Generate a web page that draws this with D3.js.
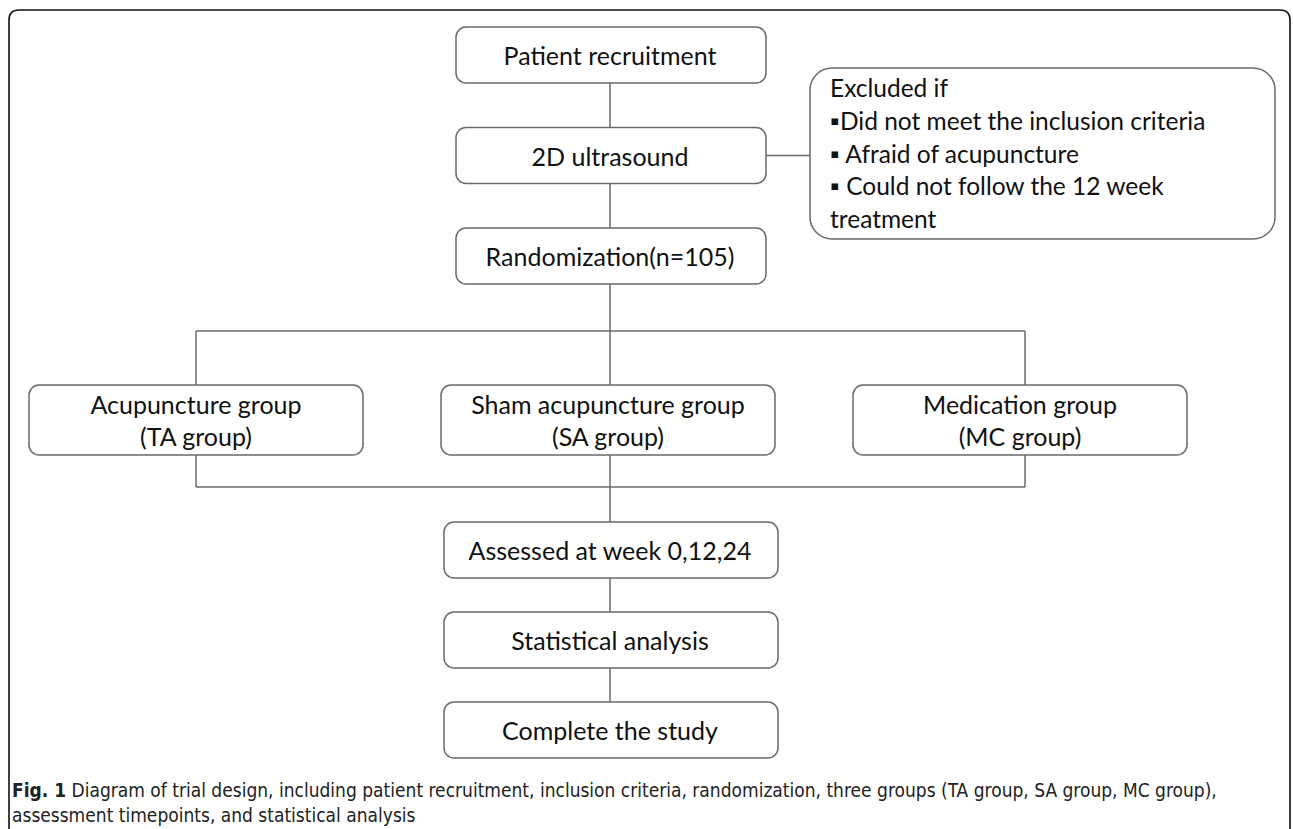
<!DOCTYPE html>
<html lang="en">
<head>
<meta charset="utf-8">
<title>Trial design diagram</title>
<script src="https://cdnjs.cloudflare.com/ajax/libs/d3/7.8.5/d3.min.js"></script>
<style>
  body { margin: 0; background: #fff; }
  svg { display: block; }
  .box { fill: #fff; stroke: #6a6a6a; stroke-width: 1.5; }
  .link { fill: none; stroke: #6a6a6a; stroke-width: 1.5; }
  .lbl { font-family: "Lato", "Open Sans", sans-serif; fill: #111; }
  .cap { font-family: "Liberation Sans Narrow", "DejaVu Sans Condensed", sans-serif; fill: #222; font-size: 19px; }
</style>
</head>
<body>
<script>
// flow steps above the split
var topSteps = ["Patient recruitment", "2D ultrasound", "Randomization(n=105)"];
// the three arms
var groups = ["Acupuncture group", "Sham acupuncture group", "Medication group"];
var groupTags = ["(TA group)", "(SA group)", "(MC group)"];
// flow steps after the arms
var bottomSteps = ["Assessed at week 0,12,24", "Statistical analysis", "Complete the study"];
// exclusion box
var exclHead = "Excluded if";
var exclItems = ["\u25AADid not meet the inclusion criteria", "\u25AA Afraid of acupuncture", "\u25AA Could not follow the 12 week", "treatment"];
var captionBold = "Fig. 1";
var captionLines = [" Diagram of trial design, including patient recruitment, inclusion criteria, randomization, three groups (TA group, SA group, MC group),",
                    "assessment timepoints, and statistical analysis"];

var W = 1293, H = 829;
var svg = d3.select("body").append("svg").attr("width", W).attr("height", H);

// outer frame (bottom runs off the page)
svg.append("path")
  .attr("d", "M9,860 L9,20 Q9,10 19,10 L1280,10 Q1290,10 1290,20 L1290,860")
  .attr("fill", "none").attr("stroke", "#111").attr("stroke-width", 1.6);

var cx = 610;
var boxH = 56;
var fs = 25;

// rows
var yTop = d3.scaleLinear().domain([0, 2]).range([27, 228]);
var yBot = d3.scaleLinear().domain([0, 2]).range([522, 702]);
var xGroup = d3.scaleBand().domain(groups).range([29, 1187]).paddingInner(78 / 412).paddingOuter(0);
var groupTop = 385, groupH = 70;
var splitY = 331, joinY = 487;

function box(x, y, w, h, r) {
  svg.append("rect").attr("class", "box")
    .attr("x", x).attr("y", y).attr("width", w).attr("height", h)
    .attr("rx", r).attr("ry", r);
}
function line(pts) {
  svg.append("path").attr("class", "link").attr("d", d3.line()(pts));
}
function gx(g, i) {
  return i == 1 ? cx : xGroup(g) + xGroup.bandwidth() / 2 + (i == 2 ? 5 : 0);
}

// links for the top column
topSteps.forEach(function(s, i) {
  if (i > 0) line([[cx, yTop(i - 1) + boxH], [cx, yTop(i)]]);
});
line([[cx, yTop(2) + boxH], [cx, splitY]]);
line([[gx(groups[0], 0), splitY], [gx(groups[2], 2), splitY]]);
line([[gx(groups[0], 0), joinY], [gx(groups[2], 2), joinY]]);
groups.forEach(function(g, i) {
  line([[gx(g, i), splitY], [gx(g, i), groupTop]]);
  line([[gx(g, i), groupTop + groupH], [gx(g, i), joinY]]);
});
line([[cx, joinY], [cx, yBot(0)]]);
bottomSteps.forEach(function(s, i) {
  if (i > 0) line([[cx, yBot(i - 1) + boxH], [cx, yBot(i)]]);
});
// link to exclusion box
line([[766, yTop(1) + boxH / 2], [810, yTop(1) + boxH / 2]]);

// top boxes
topSteps.forEach(function(s, i) {
  box(456, yTop(i), 310, boxH, 10);
  svg.append("text").attr("class", "lbl").attr("x", cx).attr("y", yTop(i) + 38)
    .attr("text-anchor", "middle").attr("font-size", fs).text(s);
});

// group boxes
groups.forEach(function(g, i) {
  var x0 = xGroup(g);
  box(x0, groupTop, xGroup.bandwidth(), groupH, 10);
  var tx = x0 + xGroup.bandwidth() / 2;
  svg.append("text").attr("class", "lbl").attr("x", tx).attr("y", groupTop + 29)
    .attr("text-anchor", "middle").attr("font-size", fs).text(g);
  svg.append("text").attr("class", "lbl").attr("x", tx).attr("y", groupTop + 61)
    .attr("text-anchor", "middle").attr("font-size", fs).text(groupTags[i]);
});

// bottom boxes
bottomSteps.forEach(function(s, i) {
  box(444, yBot(i), 334, boxH, 10);
  svg.append("text").attr("class", "lbl").attr("x", cx).attr("y", yBot(i) + 38)
    .attr("text-anchor", "middle").attr("font-size", fs).text(s);
});

// exclusion box
box(810, 68, 465, 171, 22);
var ex = svg.append("text").attr("class", "lbl").attr("font-size", 24.5);
[exclHead].concat(exclItems).forEach(function(t, i) {
  ex.append("tspan").attr("x", 830).attr("y", 97 + i * 32.8).text(t);
});

// caption
var cap = svg.append("text").attr("class", "cap").attr("x", 12).attr("y", 797);
cap.append("tspan").attr("font-weight", "bold").text(captionBold);
cap.append("tspan").text(captionLines[0]);
svg.append("text").attr("class", "cap").attr("x", 12).attr("y", 822).text(captionLines[1]);
</script>
</body>
</html>
